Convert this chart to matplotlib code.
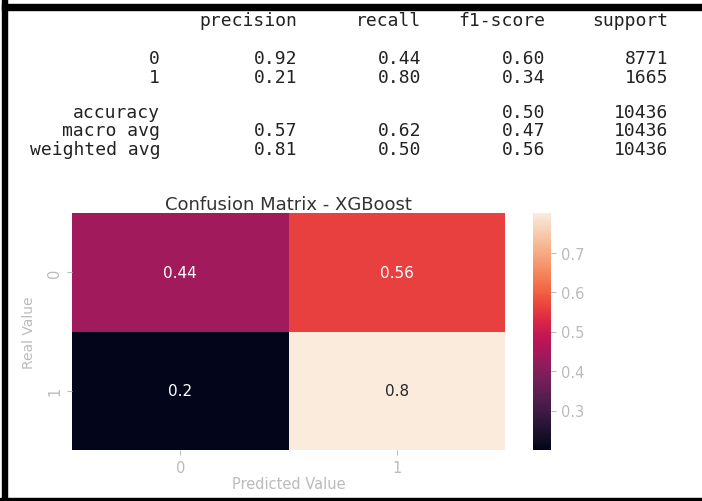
import numpy as np
import matplotlib
matplotlib.use('Agg')
import matplotlib.pyplot as plt
import seaborn as sns
from matplotlib.patches import Rectangle

# classification report
header = ['precision', 'recall', 'f1-score', 'support']
row_names = ['0', '1', 'accuracy', 'macro avg', 'weighted avg']
precision = ['0.92', '0.21', '', '0.57', '0.81']
recall = ['0.44', '0.80', '', '0.62', '0.50']
f1 = ['0.60', '0.34', '0.50', '0.47', '0.56']
support = ['8771', '1665', '10436', '10436', '10436']

# normalized confusion matrix
labels = ['0', '1']
cm = np.array([[0.44, 0.56],
               [0.20, 0.80]])

W, H = 702, 502
fig = plt.figure(figsize=(W / 100, H / 100), dpi=100)

def fx(px):
    return px / W

def fy(py):
    return 1 - py / H

mono = 'DejaVu Sans Mono'
tcol = '#222222'
fs = 13
col_right = [297, 421, 545, 668]
name_right = 160

for h, xr in zip(header, col_right):
    fig.text(fx(xr), fy(21), h, ha='right', va='center', family=mono, fontsize=fs, color=tcol)

row_y = [59, 78, 113, 131, 150]
for i, name in enumerate(row_names):
    y = fy(row_y[i])
    fig.text(fx(name_right), y, name, ha='right', va='center', family=mono, fontsize=fs, color=tcol)
    for vals, xr in zip([precision, recall, f1, support], col_right):
        if vals[i]:
            fig.text(fx(xr), y, vals[i], ha='right', va='center', family=mono, fontsize=fs, color=tcol)

# heatmap
ax = fig.add_axes([fx(72), fy(451), fx(505) - fx(72), fy(214) - fy(451)])
cax = fig.add_axes([fx(533), fy(451), fx(551) - fx(533), fy(214) - fy(451)])
sns.heatmap(cm, annot=True, cmap='rocket', ax=ax, cbar_ax=cax,
            xticklabels=labels, yticklabels=labels, annot_kws={'fontsize': 11})

grey = '#bbbbbb'
ax.set_title('Confusion Matrix - XGBoost', fontsize=13, color='#333333', pad=3)
ax.set_xlabel('Predicted Value', fontsize=10.5, color=grey, labelpad=1)
ax.set_ylabel('Real Value', fontsize=10, color=grey, labelpad=8)
ax.tick_params(colors=grey, labelsize=10.5)
for t in ax.get_yticklabels():
    t.set_rotation(90)
    t.set_va('center')
cax.tick_params(colors=grey, labelsize=10.5)
cax.yaxis.set_ticks([0.3, 0.4, 0.5, 0.6, 0.7])

# screenshot frame
fig.patches.append(Rectangle((fx(2), fy(502)), fx(5), 1, transform=fig.transFigure,
                             color='black', zorder=10))
fig.patches.append(Rectangle((fx(2), fy(11)), 1, 6 / H, transform=fig.transFigure,
                             color='black', zorder=10))
fig.patches.append(Rectangle((0, 0), 1, 3 / H, transform=fig.transFigure,
                             color='black', zorder=10))

fig.savefig('out.png', dpi=100)
